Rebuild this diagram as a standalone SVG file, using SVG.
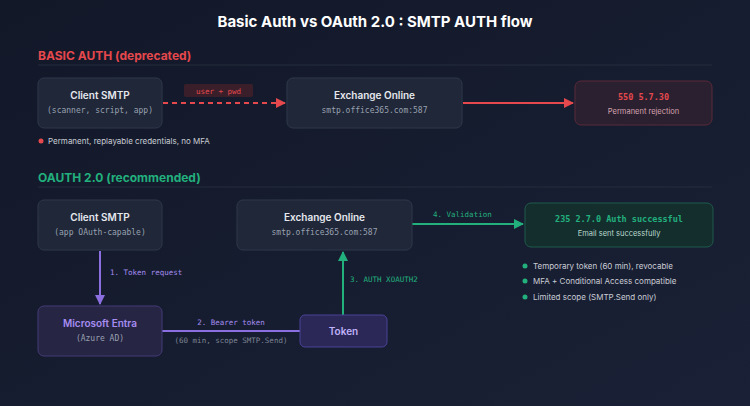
<svg xmlns="http://www.w3.org/2000/svg" width="750" height="406" viewBox="0 0 750 406">
<defs>
<linearGradient id="bg" x1="0" y1="0" x2="1" y2="1"><stop offset="0" stop-color="#121828"/><stop offset="1" stop-color="#1a2136"/></linearGradient>
<marker id="mr" markerWidth="10" markerHeight="10" refX="9" refY="5" orient="auto" markerUnits="userSpaceOnUse"><path d="M0,0 L10,5 L0,10 Z" fill="#e5484d"/></marker>
<marker id="mp" markerWidth="10" markerHeight="10" refX="9" refY="5" orient="auto" markerUnits="userSpaceOnUse"><path d="M0,0 L10,5 L0,10 Z" fill="#8b6fe0"/></marker>
<marker id="mg" markerWidth="10" markerHeight="10" refX="9" refY="5" orient="auto" markerUnits="userSpaceOnUse"><path d="M0,0 L10,5 L0,10 Z" fill="#22b07d"/></marker>
</defs>
<style>
.s{font-family:"Inter","Liberation Sans",sans-serif}
.m{font-family:"DejaVu Sans Mono","Liberation Mono",monospace}
.box{fill:#1f2738;stroke:#2f384b;stroke-width:1}
.t{font-size:10px;font-weight:600;fill:#e6e8ee;text-anchor:middle}
.sub{font-size:8px;fill:#9aa1b0;text-anchor:middle}
.h{font-size:12px;font-weight:700}
.b{font-size:8px;fill:#c9ccd4}
</style>
<rect width="750" height="406" fill="url(#bg)"/>
<text x="375" y="27" class="s" font-size="15" font-weight="700" fill="#ffffff" text-anchor="middle">Basic Auth vs OAuth 2.0 : SMTP AUTH flow</text>
<text x="38" y="60" class="s h" fill="#e5484d">BASIC AUTH (deprecated)</text>
<line x1="38" y1="65" x2="712" y2="65" stroke="#242c3d"/>
<text x="38" y="182" class="s h" fill="#22b07d">OAUTH 2.0 (recommended)</text>
<line x1="38" y1="187" x2="712" y2="187" stroke="#242c3d"/>
<g id="connectors">
<line x1="163" y1="103" x2="285" y2="103" stroke="#e5484d" stroke-width="2" stroke-dasharray="5,4" marker-end="url(#mr)"/>
<rect x="184" y="84" width="69" height="13" rx="2" fill="#3a1f2a"/>
<text x="218.5" y="93.5" class="m" font-size="7.5" fill="#e5484d" text-anchor="middle">user + pwd</text>
<line x1="463" y1="103" x2="573" y2="103" stroke="#e5484d" stroke-width="2" marker-end="url(#mr)"/>
<line x1="100" y1="251" x2="100" y2="304" stroke="#8b6fe0" stroke-width="2" marker-end="url(#mp)"/>
<text x="110" y="275" class="m" font-size="7.5" fill="#a58cf0">1. Token request</text>
<line x1="162" y1="331" x2="300" y2="331" stroke="#8b6fe0" stroke-width="2"/>
<text x="231" y="325" class="m" font-size="7.5" fill="#a58cf0" text-anchor="middle">2. Bearer token</text>
<text x="231" y="343" class="m" font-size="7.5" fill="#7d8494" text-anchor="middle">(60 min, scope SMTP.Send)</text>
<line x1="343" y1="315" x2="343" y2="252" stroke="#22b07d" stroke-width="2" marker-end="url(#mg)"/>
<text x="350" y="282" class="m" font-size="7.5" fill="#22b07d">3. AUTH XOAUTH2</text>
<line x1="412" y1="224" x2="523" y2="224" stroke="#22b07d" stroke-width="2" marker-end="url(#mg)"/>
<text x="433" y="217" class="m" font-size="7.5" fill="#22b07d">4. Validation</text>
</g>
<g id="basic-client"><rect x="38" y="78" width="124" height="50" rx="6" class="box"/><text x="100" y="99" class="s t">Client SMTP</text><text x="100" y="113" class="m sub">(scanner, script, app)</text></g>
<g id="basic-exchange"><rect x="287" y="78" width="175" height="50" rx="6" class="box"/><text x="374.5" y="99" class="s t">Exchange Online</text><text x="374.5" y="113" class="m sub">smtp.office365.com:587</text></g>
<g id="reject"><rect x="575" y="81" width="137" height="44" rx="6" fill="#2a2030" stroke="#5a2a38"/><text x="643.5" y="100" class="m" font-size="8.5" font-weight="700" fill="#e5484d" text-anchor="middle">550 5.7.30</text><text x="643.5" y="114" class="s" font-size="7.5" fill="#d7a3ae" text-anchor="middle">Permanent rejection</text></g>
<g id="basic-note"><circle cx="41" cy="141" r="2.5" fill="#e5484d"/><text x="48" y="144" class="s b" fill="#d6b6bf">Permanent, replayable credentials, no MFA</text></g>
<g id="oauth-client"><rect x="38" y="200" width="124" height="50" rx="6" class="box"/><text x="100" y="221" class="s t">Client SMTP</text><text x="100" y="235" class="m sub">(app OAuth-capable)</text></g>
<g id="oauth-exchange"><rect x="237" y="200" width="175" height="50" rx="6" class="box"/><text x="324.5" y="221" class="s t">Exchange Online</text><text x="324.5" y="235" class="m sub">smtp.office365.com:587</text></g>
<g id="entra"><rect x="38" y="306" width="124" height="50" rx="6" fill="#262544" stroke="#443a78"/><text x="100" y="327" class="s t" style="fill:#a58cf0">Microsoft Entra</text><text x="100" y="341" class="m sub">(Azure AD)</text></g>
<g id="token"><rect x="300" y="315" width="87" height="32" rx="5" fill="#2b2858" stroke="#4a4296"/><text x="343.5" y="335" class="s t" style="fill:#c0b2f8">Token</text></g>
<g id="success"><rect x="525" y="203" width="188" height="44" rx="6" fill="#142e2e" stroke="#1f5a4a"/><text x="619" y="222" class="m" font-size="8.5" font-weight="700" fill="#22b07d" text-anchor="middle">235 2.7.0 Auth successful</text><text x="619" y="236" class="s" font-size="7.5" fill="#b9d9cc" text-anchor="middle">Email sent successfully</text></g>
<g id="oauth-notes">
<circle cx="525" cy="266" r="2.5" fill="#22b07d"/><text x="533" y="269" class="s b">Temporary token (60 min), revocable</text>
<circle cx="525" cy="281" r="2.5" fill="#22b07d"/><text x="533" y="284" class="s b">MFA + Conditional Access compatible</text>
<circle cx="525" cy="297" r="2.5" fill="#22b07d"/><text x="533" y="300" class="s b">Limited scope (SMTP.Send only)</text>
</g>
</svg>
